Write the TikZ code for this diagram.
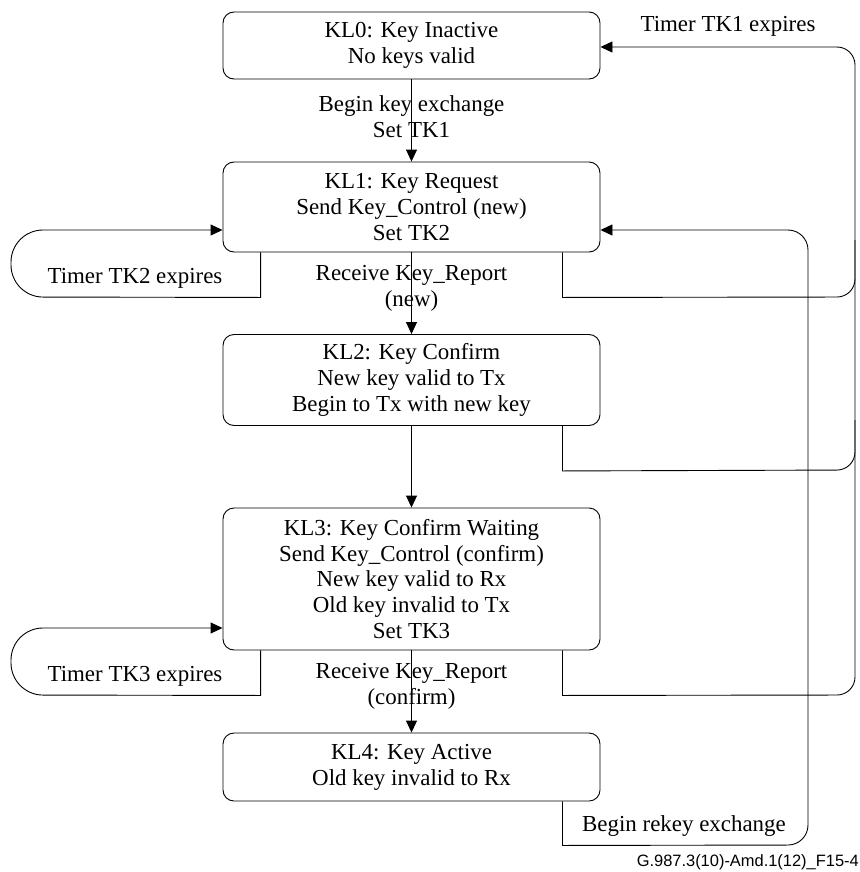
\documentclass[tikz,border=0pt]{standalone}
\usepackage{fontspec}
\setmainfont{Liberation Serif}
\setsansfont{Liberation Sans}
\usetikzlibrary{arrows.meta,calc}
\begin{document}
\begin{tikzpicture}[x=1bp,y=-1bp,
 state/.style={draw,rounded corners=11bp,line width=0.9bp,minimum width=377bp,align=center,inner sep=0pt,font=\fontsize{23}{26}\selectfont},
 conn/.style={line width=0.9bp},
 tip/.style={-{Triangle[length=12bp,width=11bp]}},
 lbl/.style={font=\fontsize{23}{26}\selectfont,align=center,inner sep=0pt}]
\useasboundingbox (0,0) rectangle (860,872);
\node[state,minimum height=67bp] (kl0) at (411.5,45.5) {KL0: Key Inactive\\No keys valid};
\node[state,minimum height=90bp] (kl1) at (411.5,207) {KL1: Key Request\\Send Key\_Control (new)\\Set TK2};
\node[state,minimum height=91bp] (kl2) at (411.5,380) {KL2: Key Confirm\\New key valid to Tx\\Begin to Tx with new key};
\node[state,minimum height=142bp] (kl3) at (411.5,579) {KL3: Key Confirm Waiting\\Send Key\_Control (confirm)\\New key valid to Rx\\Old key invalid to Tx\\Set TK3};
\node[state,minimum height=68bp] (kl4) at (411.5,767) {KL4: Key Active\\Old key invalid to Rx};

% vertical transitions
\draw[conn,tip] (kl0) -- (kl1);
\draw[conn,tip] (kl1) -- (kl2);
\draw[conn,tip] (kl2) -- (kl3);
\draw[conn,tip] (kl3) -- (kl4);
\node[lbl] (t01) at (411.5,117) {Begin key exchange\\Set TK1};
\node[lbl] (t12) at (411.5,288) {Receive Key\_Report\\(new)};
\node[lbl] (t34) at (411.5,686) {Receive Key\_Report\\(confirm)};

% left loops
\draw[conn,tip] ($(kl1.south west)+(38,0)$) -- ++(0,45) [rounded corners=32bp] -- (11,297) -- (11,230) -- ($(kl1.west)+(0,23)$);
\draw[conn,tip] ($(kl3.south west)+(38,0)$) -- ++(0,45) [rounded corners=32bp] -- (11,695) -- (11,628) -- ($(kl3.west)+(0,49)$);
\node[lbl] (t22) at (135,278) {Timer TK2 expires};
\node[lbl] (t33) at (135,676) {Timer TK3 expires};

% right returns to KL0
\draw[conn,tip] ($(kl1.south east)+(-38,0)$) -- ++(0,45) [rounded corners=18bp] -- (855,297) -- (855,47) -- ($(kl0.east)+(0,1.5)$);
\draw[conn] ($(kl2.south east)+(-38,0)$) -- ++(0,45) [rounded corners=18bp] -- (855,470) -- (855,240);
\draw[conn] ($(kl3.south east)+(-38,0)$) -- ++(0,45) [rounded corners=18bp] -- (855,695) -- (855,420);
\node[lbl] (t10) at (728,26) {Timer TK1 expires};

% rekey
\draw[conn,tip] ($(kl4.south east)+(-38,0)$) -- ++(0,44) [rounded corners=20bp] -- (808,845) -- (808,230) -- ($(kl1.east)+(0,23)$);
\node[lbl] (t41) at (684,826) {Begin rekey exchange};

\node[font=\sffamily\fontsize{16.5}{20}\selectfont,anchor=east,inner sep=0pt] (fig) at (859,862) {G.987.3(10)-Amd.1(12)\_F15-4};
\end{tikzpicture}
\end{document}
